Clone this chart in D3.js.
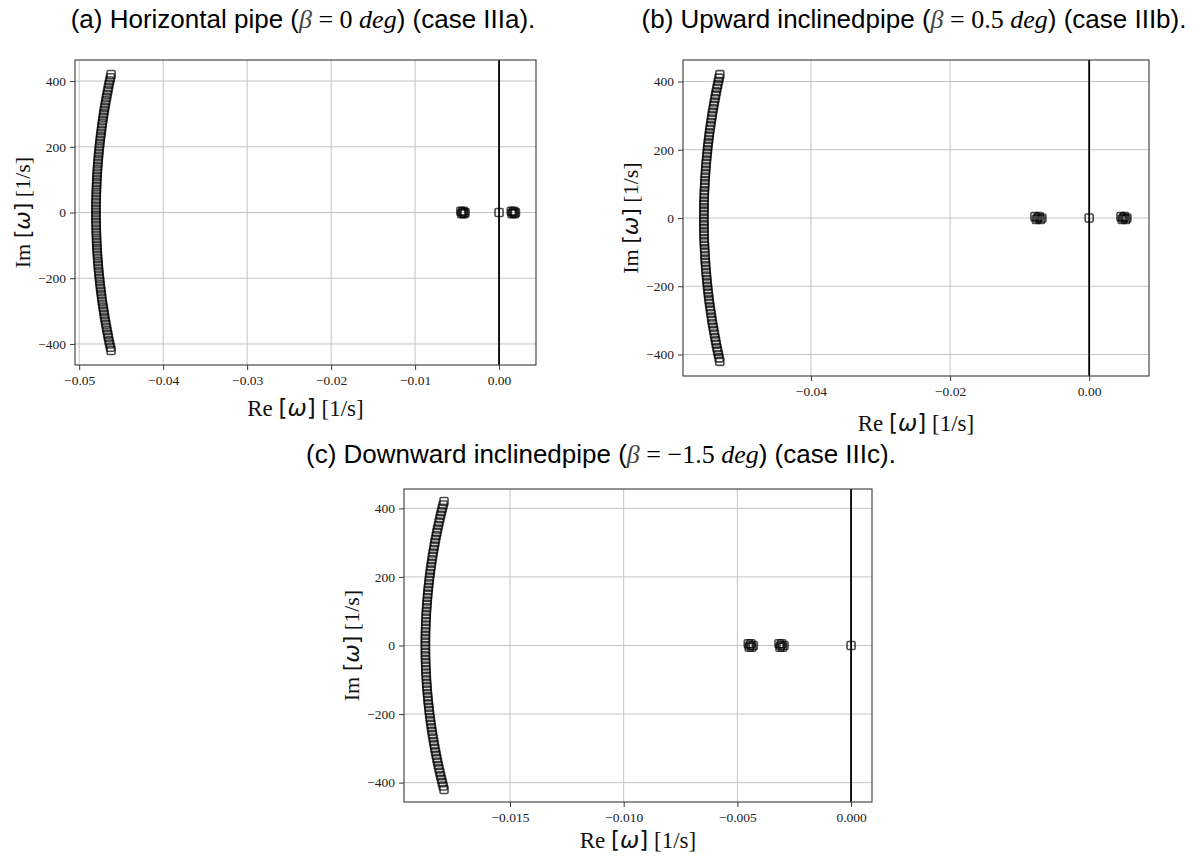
<!DOCTYPE html>
<html><head><meta charset="utf-8">
<script src="https://cdn.jsdelivr.net/npm/d3@7"></script>
<style>body{margin:0;background:#fff}</style>
</head><body><svg id="chart" width="1194" height="857"></svg>
<script>
// ---------- data ----------
const imValues = [-420,-410,-400,-390,-380,-370,-360,-350,-340,-330,-320,-310,-300,-290,-280,-270,-260,-250,-240,-230,-220,-210,-200,-190,-180,-170,-160,-150,-140,-130,-120,-110,-100,-90,-80,-70,-60,-50,-40,-30,-20,-10,0,10,20,30,40,50,60,70,80,90,100,110,120,130,140,150,160,170,180,190,200,210,220,230,240,250,260,270,280,290,300,310,320,330,340,350,360,370,380,390,400,410,420];
const reCurveA = [-0.04620,-0.04628,-0.04637,-0.04645,-0.04653,-0.04660,-0.04668,-0.04675,-0.04682,-0.04689,-0.04696,-0.04702,-0.04708,-0.04714,-0.04720,-0.04726,-0.04731,-0.04736,-0.04741,-0.04746,-0.04751,-0.04755,-0.04759,-0.04763,-0.04767,-0.04771,-0.04774,-0.04777,-0.04780,-0.04783,-0.04785,-0.04788,-0.04790,-0.04792,-0.04793,-0.04795,-0.04796,-0.04797,-0.04798,-0.04799,-0.04800,-0.04800,-0.04800,-0.04800,-0.04800,-0.04799,-0.04798,-0.04797,-0.04796,-0.04795,-0.04793,-0.04792,-0.04790,-0.04788,-0.04785,-0.04783,-0.04780,-0.04777,-0.04774,-0.04771,-0.04767,-0.04763,-0.04759,-0.04755,-0.04751,-0.04746,-0.04741,-0.04736,-0.04731,-0.04726,-0.04720,-0.04714,-0.04708,-0.04702,-0.04696,-0.04689,-0.04682,-0.04675,-0.04668,-0.04660,-0.04653,-0.04645,-0.04637,-0.04628,-0.04620];
const reCurveB = [-0.05310,-0.05321,-0.05331,-0.05342,-0.05352,-0.05362,-0.05371,-0.05380,-0.05389,-0.05398,-0.05406,-0.05415,-0.05423,-0.05430,-0.05438,-0.05445,-0.05452,-0.05459,-0.05465,-0.05471,-0.05477,-0.05483,-0.05488,-0.05493,-0.05498,-0.05502,-0.05507,-0.05511,-0.05514,-0.05518,-0.05521,-0.05524,-0.05527,-0.05529,-0.05532,-0.05534,-0.05535,-0.05537,-0.05538,-0.05539,-0.05539,-0.05540,-0.05540,-0.05540,-0.05539,-0.05539,-0.05538,-0.05537,-0.05535,-0.05534,-0.05532,-0.05529,-0.05527,-0.05524,-0.05521,-0.05518,-0.05514,-0.05511,-0.05507,-0.05502,-0.05498,-0.05493,-0.05488,-0.05483,-0.05477,-0.05471,-0.05465,-0.05459,-0.05452,-0.05445,-0.05438,-0.05430,-0.05423,-0.05415,-0.05406,-0.05398,-0.05389,-0.05380,-0.05371,-0.05362,-0.05352,-0.05342,-0.05331,-0.05321,-0.05310];
const reCurveC = [-0.017900,-0.017939,-0.017976,-0.018013,-0.018049,-0.018084,-0.018118,-0.018151,-0.018183,-0.018214,-0.018244,-0.018273,-0.018302,-0.018329,-0.018356,-0.018381,-0.018406,-0.018429,-0.018452,-0.018474,-0.018495,-0.018515,-0.018534,-0.018552,-0.018569,-0.018586,-0.018601,-0.018615,-0.018629,-0.018641,-0.018653,-0.018664,-0.018674,-0.018682,-0.018690,-0.018697,-0.018703,-0.018708,-0.018713,-0.018716,-0.018718,-0.018720,-0.018720,-0.018720,-0.018718,-0.018716,-0.018713,-0.018708,-0.018703,-0.018697,-0.018690,-0.018682,-0.018674,-0.018664,-0.018653,-0.018641,-0.018629,-0.018615,-0.018601,-0.018586,-0.018569,-0.018552,-0.018534,-0.018515,-0.018495,-0.018474,-0.018452,-0.018429,-0.018406,-0.018381,-0.018356,-0.018329,-0.018302,-0.018273,-0.018244,-0.018214,-0.018183,-0.018151,-0.018118,-0.018084,-0.018049,-0.018013,-0.017976,-0.017939,-0.017900];
const isolatedReA = [-0.00455,-0.00445,-0.00435,-0.00425,-0.00415,-0.00405,0.00000,0.00145,0.00155,0.00165,0.00175,0.00185,0.00195];
const isolatedImA = [4,-4,0,4,-4,0,0,4,-4,0,4,-4,0];
const isolatedReB = [-0.00780,-0.00760,-0.00740,-0.00720,-0.00700,-0.00680,0.00000,0.00457,0.00474,0.00491,0.00508,0.00525,0.00542];
const isolatedImB = [4,-4,0,4,-4,0,0,4,-4,0,4,-4,0];
const isolatedReC = [-0.00452,-0.00448,-0.00444,-0.00440,-0.00436,-0.00430,-0.00317,-0.00313,-0.00309,-0.00305,-0.00301,-0.00295,0.00000];
const isolatedImC = [5,-5,0,5,-5,0,5,-5,0,5,-5,0,0];
const xTicksA = [-0.05,-0.04,-0.03,-0.02,-0.01,0.00];
const xTicksB = [-0.04,-0.02,0.00];
const xTicksC = [-0.015,-0.010,-0.005,0.000];
const yTicks = [-400,-200,0,200,400];
const titleA = ["(a) Horizontal pipe (", "β", " = 0 ", "deg", ") (case IIIa)."];
const titleB = ["(b) Upward inclinedpipe (", "β", " = 0.5 ", "deg", ") (case IIIb)."];
const titleC = ["(c) Downward inclinedpipe (", "β", " = −1.5 ", "deg", ") (case IIIc)."];

// ---------- layout ----------
const svg = d3.select("#chart");
svg.append("rect").attr("width",1194).attr("height",857).attr("fill","#fff");

const panels = [
  {re: reCurveA, isoRe: isolatedReA, isoIm: isolatedImA, xTicks: xTicksA, fmt: ".2f", title: titleA,
   xDom: [-0.0505, 0.0044], yDom: [-464, 464], x0: 75, x1: 536, y0: 60, y1: 365,
   titleX: 303, titleY: 28, yLabX: 22, xLabY: 416},
  {re: reCurveB, isoRe: isolatedReB, isoIm: isolatedImB, xTicks: xTicksB, fmt: ".2f", title: titleB,
   xDom: [-0.0584, 0.0086], yDom: [-463, 463], x0: 683, x1: 1149, y0: 60, y1: 376,
   titleX: 914, titleY: 28, yLabX: 630, xLabY: 431},
  {re: reCurveC, isoRe: isolatedReC, isoIm: isolatedImC, xTicks: xTicksC, fmt: ".3f", title: titleC,
   xDom: [-0.01966, 0.00092], yDom: [-456.5, 456.5], x0: 404, x1: 872, y0: 489, y1: 802,
   titleX: 601, titleY: 463, yLabX: 351, xLabY: 848}
];

const SERIF = "'Liberation Serif','Times New Roman',serif";
const SANS = "'Liberation Sans',Arial,Helvetica,sans-serif";
const MATHSANS = "'DejaVu Sans',sans-serif";

function drawPanel(p) {
  const x = d3.scaleLinear().domain(p.xDom).range([p.x0, p.x1]);
  const y = d3.scaleLinear().domain(p.yDom).range([p.y1, p.y0]);
  const g = svg.append("g");

  // grid
  g.append("g").selectAll("line").data(p.xTicks).join("line")
    .attr("x1", d => x(d)).attr("x2", d => x(d)).attr("y1", p.y0).attr("y2", p.y1)
    .attr("stroke", "#c4c4c4").attr("stroke-width", 1);
  g.append("g").selectAll("line").data(yTicks).join("line")
    .attr("x1", p.x0).attr("x2", p.x1).attr("y1", d => y(d)).attr("y2", d => y(d))
    .attr("stroke", "#c4c4c4").attr("stroke-width", 1);

  // vertical line at Re = 0
  g.append("line").attr("x1", x(0)).attr("x2", x(0)).attr("y1", p.y0).attr("y2", p.y1)
    .attr("stroke", "#000").attr("stroke-width", 1.8);

  // markers
  const pts = p.re.map((r, i) => [r, imValues[i]])
    .concat(p.isoRe.map((r, i) => [r, p.isoIm[i]]));
  const s = 8;
  g.append("g").selectAll("rect").data(pts).join("rect")
    .attr("x", d => x(d[0]) - s/2).attr("y", d => y(d[1]) - s/2)
    .attr("width", s).attr("height", s).attr("rx", 1.2)
    .attr("fill", "none").attr("stroke", "#000").attr("stroke-opacity", 0.7)
    .attr("stroke-width", 1.6);

  // frame
  g.append("rect").attr("x", p.x0).attr("y", p.y0)
    .attr("width", p.x1 - p.x0).attr("height", p.y1 - p.y0)
    .attr("fill", "none").attr("stroke", "#3a3a3a").attr("stroke-width", 1.1);

  // axes
  const ax = g.append("g").attr("transform", `translate(0,${p.y1})`)
    .call(d3.axisBottom(x).tickValues(p.xTicks).tickFormat(d3.format(p.fmt)).tickSize(5).tickPadding(5));
  const ay = g.append("g").attr("transform", `translate(${p.x0},0)`)
    .call(d3.axisLeft(y).tickValues(yTicks).tickFormat(d3.format("d")).tickSize(5).tickPadding(4));
  [ax, ay].forEach(a => {
    a.select(".domain").remove();
    a.selectAll(".tick line").attr("stroke", "#3a3a3a").attr("stroke-width", 1);
    a.selectAll(".tick text").attr("fill", "#222").style("font-family", SERIF).style("font-size", "13.5px");
  });

  // axis labels
  const xl = g.append("text").attr("x", (p.x0 + p.x1) / 2).attr("y", p.xLabY)
    .attr("text-anchor", "middle").style("font-family", SERIF).style("font-size", "23px").attr("fill", "#111");
  xl.append("tspan").text("Re ");
  xl.append("tspan").style("font-family", MATHSANS).text("[");
  xl.append("tspan").style("font-family", MATHSANS).style("font-style", "italic").text("ω");
  xl.append("tspan").style("font-family", MATHSANS).text("]");
  xl.append("tspan").text(" [1/s]");

  const yl = g.append("text")
    .attr("transform", `translate(${p.yLabX},${(p.y0 + p.y1) / 2}) rotate(-90)`)
    .attr("dy", "0.35em")
    .attr("text-anchor", "middle").style("font-family", SERIF).style("font-size", "22px").attr("fill", "#111");
  yl.append("tspan").text("Im ");
  yl.append("tspan").style("font-family", MATHSANS).text("[");
  yl.append("tspan").style("font-family", MATHSANS).style("font-style", "italic").text("ω");
  yl.append("tspan").style("font-family", MATHSANS).text("]");
  yl.append("tspan").text(" [1/s]");

  // title
  const t = svg.append("text").attr("x", p.titleX).attr("y", p.titleY)
    .attr("text-anchor", "middle").style("font-family", SANS).style("font-size", "26px")
    .attr("fill", "#000").attr("xml:space", "preserve");
  t.append("tspan").text(p.title[0]);
  t.append("tspan").style("font-family", SERIF).style("font-style", "italic").attr("fill", "#444").text(p.title[1]);
  t.append("tspan").style("font-family", SERIF).text(p.title[2]);
  t.append("tspan").style("font-family", SERIF).style("font-style", "italic").text(p.title[3]);
  t.append("tspan").text(p.title[4]);
}

panels.forEach(drawPanel);
</script></body></html>
